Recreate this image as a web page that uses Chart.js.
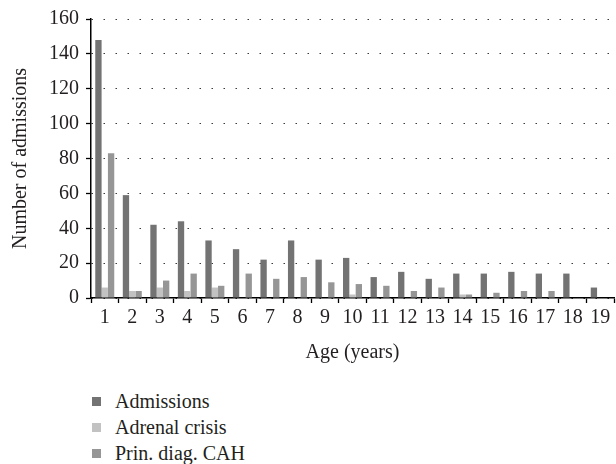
<!DOCTYPE html>
<html>
<head>
<meta charset="utf-8">
<script src="https://cdn.jsdelivr.net/npm/chart.js@4/dist/chart.umd.min.js"></script>
<style>
  html, body { margin: 0; padding: 0; background: #ffffff; }
  #wrap { position: relative; width: 616px; height: 464px; overflow: hidden; }
  #c { position: absolute; left: 0; top: 0; }
  #legend { position: absolute; left: 92px; top: 389px; font-family: "Liberation Serif", serif; font-size: 20px; color: #231f20; }
  .row { display: flex; align-items: center; height: 25.8px; }
  .sw { width: 9px; height: 9px; margin-right: 14px; }
</style>
</head>
<body>
<div id="wrap">
  <canvas id="c" width="616" height="380"></canvas>
  <div id="legend"></div>
</div>
<script>
const ages = ["1","2","3","4","5","6","7","8","9","10","11","12","13","14","15","16","17","18","19"];
const admissions = [148, 59, 42, 44, 33, 28, 22, 33, 22, 23, 12, 15, 11, 14, 14, 15, 14, 14, 6];
const adrenalCrisis = [6, 4, 6, 4, 6, 0, 0, 0, 0, 2, 0, 0, 0, 2, 0, 0, 0, 0, 0];
const prinDiagCAH = [83, 4, 10, 14, 7, 14, 11, 12, 9, 8, 7, 4, 6, 2, 3, 4, 4, 0, 0];
const seriesNames = ["Admissions", "Adrenal crisis", "Prin. diag. CAH"];
const yTicks = [0, 20, 40, 60, 80, 100, 120, 140, 160];

const colors = ["#737373", "#c2c2c2", "#969696"];
const textColor = "#231f20";
const fontFamily = "'Liberation Serif', 'Times New Roman', serif";

const chart = new Chart(document.getElementById("c"), {
  type: "bar",
  data: {
    labels: ages,
    datasets: [
      { label: seriesNames[0], data: admissions, backgroundColor: colors[0] },
      { label: seriesNames[1], data: adrenalCrisis, backgroundColor: colors[1] },
      { label: seriesNames[2], data: prinDiagCAH, backgroundColor: colors[2] }
    ]
  },
  options: {
    responsive: false,
    animation: false,
    devicePixelRatio: 1,
    layout: { padding: { left: 0, right: 2, top: 17, bottom: 0 } },
    datasets: { bar: { categoryPercentage: 0.69, barPercentage: 1.0, borderWidth: 0 } },
    plugins: { legend: { display: false }, tooltip: { enabled: false } },
    scales: {
      x: {
        afterFit: (s) => { s.height = 82; },
        grid: { display: true, drawOnChartArea: false, drawTicks: true, tickLength: 5, tickColor: "#000", tickWidth: 1.3, offset: true },
        border: { display: true, color: "#000", width: 1.5 },
        ticks: { color: textColor, font: { family: fontFamily, size: 20 }, padding: 3, maxRotation: 0, autoSkip: false },
        title: { display: true, text: "Age (years)", color: textColor, font: { family: fontFamily, size: 20 }, padding: { top: 0, bottom: 15 } }
      },
      y: {
        min: 0, max: 160,
        afterFit: (s) => { s.width = 91; },
        afterBuildTicks: (s) => { s.ticks = yTicks.map(v => ({ value: v })); },
        grid: { display: true, drawOnChartArea: true, drawTicks: true, tickLength: 5, color: "#3a3a3a", lineWidth: 1, tickColor: "#000", tickWidth: 1.3, tickBorderDash: [] },
        border: { display: true, color: "#000", width: 1.5, dash: [1.5, 10.5] },
        ticks: { color: textColor, font: { family: fontFamily, size: 20 }, padding: 7 },
        title: { display: true, text: "Number of admissions", color: textColor, font: { family: fontFamily, size: 20 }, padding: { top: 9, bottom: 0 } }
      }
    }
  }
});

const legend = document.getElementById("legend");
chart.data.datasets.forEach((ds) => {
  const row = document.createElement("div");
  row.className = "row";
  const sw = document.createElement("span");
  sw.className = "sw";
  sw.style.background = ds.backgroundColor;
  const tx = document.createElement("span");
  tx.textContent = ds.label;
  row.appendChild(sw);
  row.appendChild(tx);
  legend.appendChild(row);
});
</script>
</body>
</html>
